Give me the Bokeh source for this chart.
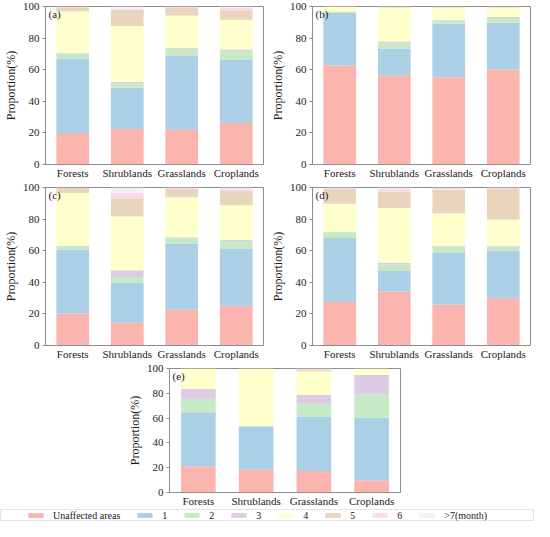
from bokeh.plotting import figure
from bokeh.models import ColumnDataSource, FactorRange, Range1d, Label, Legend, LegendItem, Spacer
from bokeh.layouts import column, row
from bokeh.embed import file_html
from bokeh.resources import INLINE

categories = ["Forests", "Shrublands", "Grasslands", "Croplands"]
classes = ["Unaffected areas", "1", "2", "3", "4", "5", "6", ">7(month)"]
colors = ["#fbb4ae", "#abcfe5", "#c6e9c6", "#e0cbe4", "#ffffcc", "#e8d5bb", "#fcdaeb", "#f2f2f2"]
y_ticks = [0, 20, 40, 60, 80, 100]

# rows: classes (Unaffected, 1..6, >7); columns: categories
values_a = [
    [20.0, 22.4, 22.0, 26.3],
    [47.0, 26.1, 46.6, 39.8],
    [3.2, 2.8, 4.7, 6.2],
    [0.3, 1.1, 0.4, 0.6],
    [26.5, 35.3, 20.6, 18.7],
    [2.6, 10.2, 4.7, 6.1],
    [0.4, 0.7, 0.8, 1.7],
    [0.0, 1.4, 0.2, 0.6],
]
values_b = [
    [62.7, 56.1, 55.3, 60.2],
    [33.2, 17.3, 33.8, 29.7],
    [0.8, 3.3, 2.0, 2.9],
    [0.2, 1.2, 0.4, 0.6],
    [3.1, 21.5, 7.9, 6.0],
    [0.0, 0.3, 0.4, 0.4],
    [0.0, 0.3, 0.2, 0.2],
    [0.0, 0.0, 0.0, 0.0],
]
values_c = [
    [20.3, 14.4, 22.6, 25.0],
    [40.5, 25.4, 41.9, 36.0],
    [2.2, 3.5, 3.7, 5.1],
    [0.2, 4.3, 0.3, 0.6],
    [33.3, 34.1, 25.3, 22.0],
    [3.5, 11.5, 5.2, 9.2],
    [0.0, 3.3, 0.8, 1.7],
    [0.0, 3.5, 0.2, 0.4],
]
values_d = [
    [27.5, 34.1, 25.9, 30.0],
    [40.5, 13.1, 32.6, 30.0],
    [3.7, 3.9, 4.1, 2.6],
    [0.2, 1.3, 0.6, 0.6],
    [17.8, 34.7, 20.4, 16.5],
    [9.3, 10.4, 15.2, 19.3],
    [0.8, 1.5, 1.0, 0.8],
    [0.2, 1.0, 0.2, 0.2],
]
values_e = [
    [21.1, 18.3, 17.3, 9.9],
    [43.6, 35.0, 43.6, 50.3],
    [10.9, 0.5, 10.7, 18.7],
    [7.9, 0.0, 7.3, 16.0],
    [16.5, 46.2, 18.8, 5.1],
    [0.0, 0.0, 1.2, 0.0],
    [0.0, 0.0, 1.1, 0.0],
    [0.0, 0.0, 0.0, 0.0],
]

FONT = "Liberation Serif"
TXT = "#1a1a1a"
GRAY = "#8c8c8c"


def panel(vals, tag, width, height):
    p = figure(width=width, height=height, x_range=FactorRange(factors=categories),
               y_range=Range1d(0, 100), output_backend="svg", toolbar_location=None,
               min_border_left=0, min_border_right=4, min_border_top=6, min_border_bottom=0)
    data = {"cat": categories}
    keys = []
    for i, row_vals in enumerate(vals):
        k = "c%d" % i
        data[k] = row_vals
        keys.append(k)
    src = ColumnDataSource(data)
    p.vbar_stack(keys, x="cat", width=0.6, color=colors, line_color=None, source=src)
    p.grid.visible = False
    p.outline_line_color = GRAY
    p.outline_line_width = 1
    p.yaxis.ticker = y_ticks
    p.yaxis.axis_label = "Proportion(%)"
    p.yaxis.axis_label_text_font = FONT
    p.yaxis.axis_label_text_font_style = "normal"
    p.yaxis.axis_label_text_font_size = "12px"
    p.yaxis.axis_label_text_color = TXT
    p.yaxis.axis_label_standoff = 2
    for ax in (p.xaxis, p.yaxis):
        ax.major_label_text_font = FONT
        ax.major_label_text_font_size = "11px"
        ax.major_label_text_color = TXT
        ax.axis_line_color = GRAY
        ax.major_tick_line_color = GRAY
        ax.minor_tick_line_color = None
        ax.major_tick_in = 0
        ax.major_label_standoff = 3
    p.xaxis.major_label_standoff = 2
    p.yaxis.major_tick_out = 3
    p.xaxis.major_tick_out = 0
    p.add_layout(Label(x=3, y=99, x_units="screen", y_units="data", text=tag,
                       text_font=FONT, text_font_size="11px", text_color=TXT,
                       text_baseline="top"))
    return p


pa = panel(values_a, "(a)", 267, 181)
pb = panel(values_b, "(b)", 267, 181)
pc = panel(values_c, "(c)", 267, 181)
pd = panel(values_d, "(d)", 267, 181)
pe = panel(values_e, "(e)", 280, 147)

# legend strip (proxy renderers placed outside the visible range)
pl = figure(width=534, height=12, x_range=Range1d(0, 1), y_range=Range1d(0, 1),
            output_backend="svg", toolbar_location=None,
            min_border_left=0, min_border_right=0, min_border_top=0, min_border_bottom=0)
pl.axis.visible = False
pl.grid.visible = False
pl.outline_line_color = "#e4e4e4"
items = []
for name, c in zip(classes, colors):
    r = pl.vbar(x=[5], top=[5], bottom=[4], width=0.1, fill_color=c, line_color=None)
    items.append(LegendItem(label=name, renderers=[r]))
leg = Legend(items=items, orientation="horizontal", location=(26, 0),
             glyph_width=19, glyph_height=6, label_height=12, label_width=1,
             label_standoff=8, spacing=15, padding=0, margin=0,
             border_line_color=None, background_fill_alpha=0, label_text_font=FONT,
             label_text_font_size="10px", label_text_color=TXT)
pl.add_layout(leg, "center")

layout = column(row(pa, pb), row(pc, pd), row(Spacer(width=124, height=147), pe), pl)

open("out.html", "w").write(file_html(layout, INLINE))
